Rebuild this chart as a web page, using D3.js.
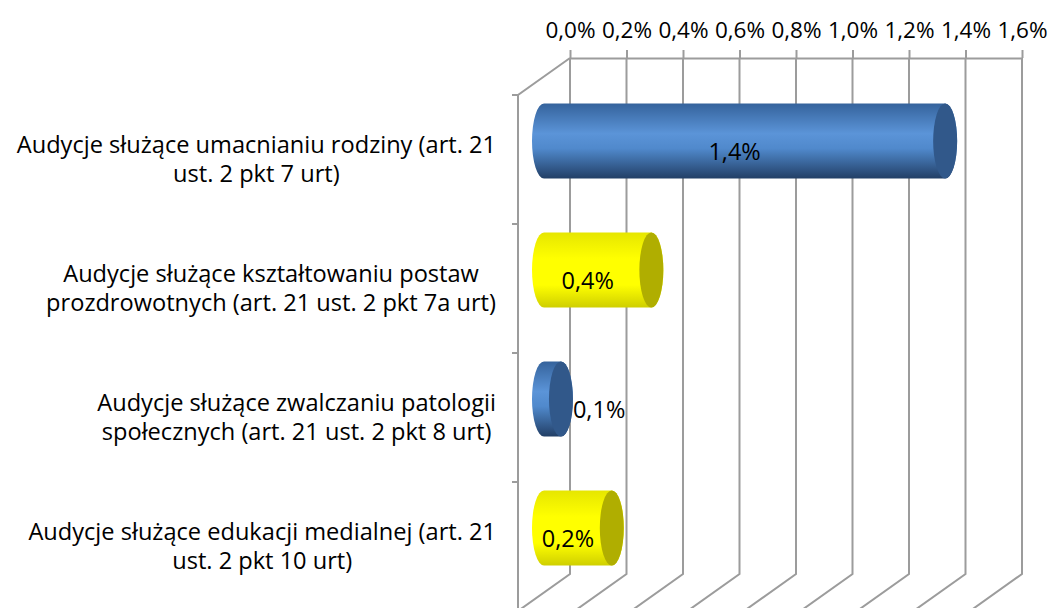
<!DOCTYPE html>
<html>
<head>
<meta charset="utf-8">
<script src="https://cdn.jsdelivr.net/npm/d3@7"></script>
<style>
  body { margin: 0; background: #fff; }
  text { font-family: "Open Sans", sans-serif; fill: #000; }
</style>
</head>
<body>
<script>
// data
var categories = [
    "Audycje służące umacnianiu rodziny (art. 21 ust. 2 pkt 7 urt)",
    "Audycje służące kształtowaniu postaw prozdrowotnych (art. 21 ust. 2 pkt 7a urt)",
    "Audycje służące zwalczaniu patologii społecznych (art. 21 ust. 2 pkt 8 urt)",
    "Audycje służące edukacji medialnej (art. 21 ust. 2 pkt 10 urt)"
];
var categoryLines = [
    ["Audycje służące umacnianiu rodziny (art. 21", "ust. 2 pkt 7 urt)"],
    ["Audycje służące kształtowaniu postaw", "prozdrowotnych (art. 21 ust. 2 pkt 7a urt)"],
    ["Audycje służące zwalczaniu patologii", "społecznych (art. 21 ust. 2 pkt 8 urt)"],
    ["Audycje służące edukacji medialnej (art. 21", "ust. 2 pkt 10 urt)"]
];
var values = [1.42, 0.38, 0.06, 0.24];   // percent
var tickValues = [0, 0.2, 0.4, 0.6, 0.8, 1.0, 1.2, 1.4, 1.6];

function init() {
    var w = 1051;
    var h = 608;
    var frontX = 518, frontY = 95;      // front-left corner of the plot
    var dx = 52, dy = -37;             // depth of the 3D box
    var plotW = 452, plotH = 516;
    var catFont = 23.6, tickFont = 22.5, valFont = 23.5;

    var pl = d3.formatLocale({decimal: ",", thousands: " ", grouping: [3], currency: ["", " zł"]});
    var fmt = function (v) { return pl.format(".1f")(v) + "%"; };

    var xScale = d3.scaleLinear().domain([0, 1.6]).range([0, plotW]);
    var yScale = d3.scaleBand().domain(categories).range([frontY, frontY + plotH]);

    var color = d3.scaleOrdinal().domain(categories).range(["blue", "yellow"]);

    var svg = d3.select("body")
                .append("svg")
                .attr("width", w)
                .attr("height", h);

    var defs = svg.append("defs");
    var grads = {
        blue: [["0%", "#35639c"], ["40%", "#5b94d8"], ["60%", "#5089cc"], ["100%", "#223f66"]],
        yellow: [["0%", "#e6e600"], ["35%", "#ffff00"], ["70%", "#ffff00"], ["100%", "#cfcf00"]]
    };
    var capColor = { blue: "#31588a", yellow: "#b0ae00" };
    Object.keys(grads).forEach(function (k) {
        var g = defs.append("linearGradient").attr("id", "g-" + k)
                    .attr("x1", 0).attr("y1", 0).attr("x2", 0).attr("y2", 1);
        grads[k].forEach(function (s) {
            g.append("stop").attr("offset", s[0]).attr("stop-color", s[1]);
        });
    });

    var gridColor = "#9c9c9c";

    // back wall grid lines + floor lines
    svg.selectAll("path.grid")
        .data(tickValues)
        .enter()
        .append("path")
        .attr("class", "grid")
        .attr("d", function (d) {
            var x = frontX + dx + xScale(d);
            return "M" + x + "," + (frontY + dy) + "V" + (frontY + dy + plotH) +
                   "L" + (x - dx) + "," + (frontY + plotH);
        })
        .attr("fill", "none")
        .attr("stroke", gridColor)
        .attr("stroke-width", 2);

    // top axis on the back wall
    var axis = d3.axisTop(xScale)
                 .tickValues(tickValues)
                 .tickFormat(fmt)
                 .tickSize(8)
                 .tickSizeOuter(0)
                 .tickPadding(12);
    var gAxis = svg.append("g")
        .attr("transform", "translate(" + (frontX + dx) + "," + (frontY + dy) + ")")
        .call(axis);
    gAxis.select(".domain").attr("stroke", gridColor).attr("stroke-width", 2);
    gAxis.selectAll(".tick line").attr("stroke", gridColor).attr("stroke-width", 2);
    gAxis.selectAll(".tick text").style("font-size", tickFont + "px").attr("fill", "#000");

    // side wall edges
    svg.append("path")
        .attr("d", "M" + (frontX + dx) + "," + (frontY + dy) + "L" + frontX + "," + frontY +
                   "V" + (frontY + plotH))
        .attr("fill", "none")
        .attr("stroke", gridColor)
        .attr("stroke-width", 2);

    var bounds = categories.map(function (c) { return yScale(c); }).concat([frontY + plotH]);
    svg.selectAll("line.ytick")
        .data(bounds)
        .enter()
        .append("line")
        .attr("class", "ytick")
        .attr("x1", frontX - 6)
        .attr("x2", frontX)
        .attr("y1", function (d) { return d; })
        .attr("y2", function (d) { return d; })
        .attr("stroke", gridColor)
        .attr("stroke-width", 2);

    // category labels, centered within their own box, right edge near axis
    var labelRight = 496;
    var lab = svg.selectAll("text.cat")
        .data(categories)
        .enter()
        .append("text")
        .attr("class", "cat")
        .style("font-size", catFont + "px")
        .attr("text-anchor", "middle");
    lab.each(function (d, i) {
        var t = d3.select(this);
        var cy = yScale(d) + yScale.bandwidth() / 2;
        categoryLines[i].forEach(function (line, j) {
            t.append("tspan")
             .attr("y", cy + (j - 0.5) * 29)
             .attr("dy", "0.35em")
             .text(line);
        });
        var maxW = 0;
        t.selectAll("tspan").each(function () {
            maxW = Math.max(maxW, this.getComputedTextLength());
        });
        t.selectAll("tspan").attr("x", labelRight - maxW / 2);
    });

    // cylinders
    var rx = 12, ry = 37.5;
    var bars = svg.selectAll("g.bar")
        .data(values)
        .enter()
        .append("g")
        .attr("class", "bar");

    bars.each(function (d, i) {
        var g = d3.select(this);
        var c = color(categories[i]);
        var x0 = frontX + dx / 2;
        var x1 = x0 + xScale(d);
        var cy = yScale(categories[i]) + yScale.bandwidth() / 2 + dy / 2;
        var top = cy - ry, bot = cy + ry;
        g.append("path")
         .attr("d", "M" + x0 + "," + top + "L" + x1 + "," + top +
                    "A" + rx + "," + ry + " 0 0 1 " + x1 + "," + bot +
                    "L" + x0 + "," + bot +
                    "A" + rx + "," + ry + " 0 0 1 " + x0 + "," + top + "Z")
         .attr("fill", "url(#g-" + c + ")");
        g.append("ellipse")
         .attr("cx", x1).attr("cy", cy)
         .attr("rx", rx).attr("ry", ry)
         .attr("fill", capColor[c]);

        var txt = g.append("text")
         .style("font-size", valFont + "px")
         .attr("dy", "0.35em")
         .attr("y", cy + 11)
         .text(fmt(d));
        var tw = txt.node().getComputedTextLength();
        if (tw > (x1 - x0) + 2 * rx) {
            txt.attr("x", x1 + rx).attr("text-anchor", "start");
        } else {
            txt.attr("x", (x0 + x1) / 2 - 10).attr("text-anchor", "middle");
        }
    });
}
window.onload = init;
</script>
</body>
</html>
